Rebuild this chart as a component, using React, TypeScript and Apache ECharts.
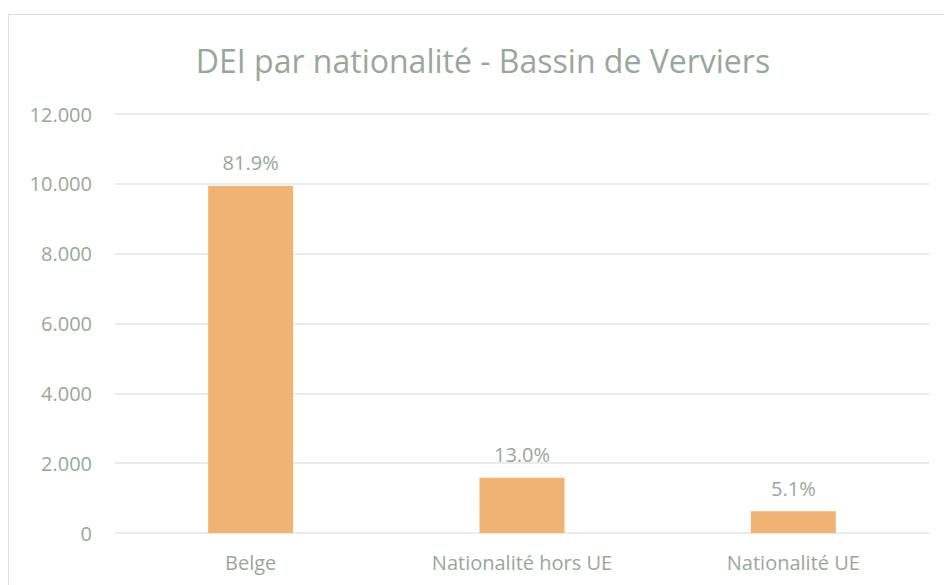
import React, { useEffect, useRef } from "react";
import * as echarts from "echarts";

const categories = ["Belge", "Nationalité hors UE", "Nationalité UE"];
const values = [9940, 1580, 620];
const percentLabels = ["81.9%", "13.0%", "5.1%"];
const yTicks = { min: 0, max: 12000, interval: 2000 };
const titleText = "DEI par nationalité - Bassin de Verviers";

const TEXT = "#97A898";
const FONT = "'Open Sans', 'Noto Sans', sans-serif";

export default function App() {
  const ref = useRef<HTMLDivElement>(null);
  useEffect(() => {
    if (!ref.current) return;
    const chart = echarts.init(ref.current, null, { renderer: "svg" });
    chart.setOption({
      animation: false,
      backgroundColor: "#ffffff",
      textStyle: { fontFamily: FONT },
      graphic: [
        {
          type: "rect",
          shape: { x: 8.5, y: 14.5, width: 980, height: 620 },
          style: { fill: "none", stroke: "#DCDEDC", lineWidth: 1 },
          silent: true,
        },
        {
          type: "text",
          x: 483,
          y: 60,
          style: {
            text: titleText,
            fill: TEXT,
            font: `32px ${FONT}`,
            textAlign: "center",
            textVerticalAlign: "middle",
          },
        },
      ],
      grid: { left: 115, right: 15, top: 114, bottom: 52 },
      xAxis: {
        type: "category",
        data: categories,
        axisLine: { show: false },
        axisTick: { show: false },
        axisLabel: { color: TEXT, fontSize: 20, margin: 19, fontFamily: FONT },
      },
      yAxis: {
        type: "value",
        min: yTicks.min,
        max: yTicks.max,
        interval: yTicks.interval,
        axisLine: { show: false },
        axisTick: { show: false },
        splitLine: { lineStyle: { color: "#E3E6E3", width: 1.5 } },
        axisLabel: {
          color: TEXT,
          fontSize: 20,
          margin: 23,
          fontFamily: FONT,
          formatter: (v: number) => String(v).replace(/\B(?=(\d{3})+(?!\d))/g, "."),
        },
      },
      series: [
        {
          type: "bar",
          data: values,
          barWidth: 85,
          itemStyle: { color: "#F0B372" },
          label: {
            show: true,
            position: "top",
            distance: 13,
            color: TEXT,
            fontSize: 20,
            fontFamily: FONT,
            formatter: (p: any) => percentLabels[p.dataIndex],
          },
        },
      ],
    });
    return () => chart.dispose();
  }, []);
  return (
    <div
      ref={ref}
      style={{ position: "fixed", left: 0, top: 0, width: 944, height: 585 }}
    />
  );
}
